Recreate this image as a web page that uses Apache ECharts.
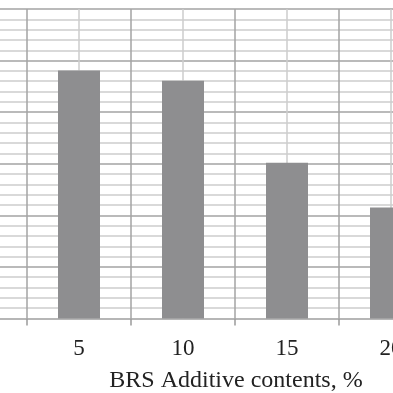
<!DOCTYPE html>
<html>
<head>
<meta charset="utf-8">
<script src="https://cdn.jsdelivr.net/npm/echarts@6/dist/echarts.min.js"></script>
<style>
html,body{margin:0;padding:0;background:#fff;}
#chart{width:393px;height:393px;}
</style>
</head>
<body>
<div id="chart"></div>
<script>
// Data
var categories = ['0', '5', '10', '15', '20'];
var values = ['-', 4.81, 4.61, 3.02, 2.15];
var xTitle = 'BRS Additive contents, %';

var chart = echarts.init(document.getElementById('chart'), null, {renderer: 'canvas'});
var font = '"Liberation Serif", "Times New Roman", serif';
chart.setOption({
  animation: false,
  backgroundColor: '#ffffff',
  title: {
    text: xTitle,
    left: 231,
    top: 364,
    textAlign: 'center',
    textStyle: {fontFamily: font, fontSize: 24, fontWeight: 'normal', color: '#222'}
  },
  grid: {left: -77, width: 520, top: 9, height: 309.5, containLabel: false, outerBoundsMode: 'none'},
  xAxis: [{
    type: 'category',
    data: categories,
    boundaryGap: true,
    axisLine: {show: true, lineStyle: {color: '#b4b4b4', width: 1.5}},
    axisTick: {show: true, length: 7, lineStyle: {color: '#9a9a9a', width: 1.5}},
    axisLabel: {margin: 19, fontFamily: font, fontSize: 23, color: '#222'},
    splitLine: {show: false}
  }, {
    type: 'value',
    min: 0, max: 10, interval: 1,
    position: 'top',
    axisLine: {show: false}, axisTick: {show: false}, axisLabel: {show: false},
    splitLine: {show: true, lineStyle: {color: ['#a3a3a3', '#cdcdcd'], width: 1.5}}
  }],
  yAxis: {
    type: 'value',
    min: 0, max: 6, interval: 1,
    axisLine: {show: false}, axisTick: {show: false}, axisLabel: {show: false},
    splitLine: {show: true, lineStyle: {color: '#a3a3a3', width: 1.5}},
    minorTick: {show: false, splitNumber: 5},
    minorSplitLine: {show: true, lineStyle: {color: '#cdcdcd', width: 1.5}}
  },
  series: [{
    type: 'bar',
    xAxisIndex: 0,
    data: values,
    barWidth: 42,
    itemStyle: {color: '#8e8e90'},
    z: 5
  }]
});
</script>
</body>
</html>
